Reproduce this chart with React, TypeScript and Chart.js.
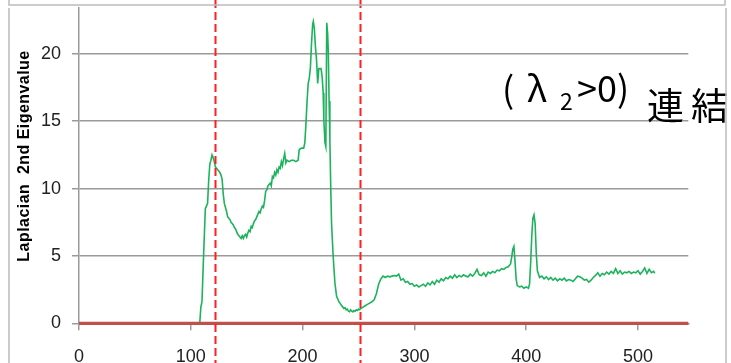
import React, { useEffect, useRef } from 'react';
import { Chart, registerables } from 'chart.js';

Chart.register(...registerables);

// Green series: 2nd eigenvalue vs. frame
const greenX = [
  0, 108, 109, 110, 111, 112, 113, 114, 115, 116, 117, 118, 119, 120, 121, 122, 123, 124, 125, 126, 127, 128, 129,
  130, 131, 132, 133, 134, 135, 136, 137, 138, 139, 140, 141, 142, 143, 144, 145, 146, 147, 148, 149, 150, 151,
  152, 153, 154, 155, 156, 157, 158, 159, 160, 161, 162, 163, 164, 165, 166, 167, 168, 169, 170, 171, 172, 173,
  174, 175, 176, 177, 178, 179, 180, 181, 182, 183, 184, 185, 186, 188, 190, 192, 194, 196, 197, 199, 201, 202,
  203, 204, 205, 206, 207, 208, 209, 209.6, 210.5, 211.5, 212.5, 213.5, 214.5, 216.5, 217.5, 218.4, 219, 220,
  220.8, 221.6, 222.4, 223, 223.7, 224.4, 225.2, 225.9, 227.4, 228.9, 230.4, 231.5, 232.5, 233.5, 234.5, 236, 237,
  238, 239, 240, 241, 242, 243, 244, 245, 246, 247, 248, 249, 250, 251, 252, 254, 256, 258, 260, 262, 264, 266,
  268, 270, 272, 274, 276, 278, 280, 282, 284, 286, 288, 290, 292, 294, 296, 298, 300, 302, 304, 306, 308, 310,
  312, 314, 316, 318, 320, 322, 324, 326, 328, 330, 332, 334, 336, 338, 340, 342, 344, 346, 348, 350, 352, 354,
  356, 358, 360, 362, 364, 366, 368, 370, 372, 374, 376, 378, 380, 382, 384, 386, 387, 388, 389, 390, 391, 392,
  394, 396, 398, 400, 402, 403, 404, 405, 406, 407, 408, 409, 410, 412, 414, 416, 418, 420, 422, 424, 426, 428,
  430, 432, 434, 436, 438, 440, 442, 444, 446, 448, 450, 452, 454, 456, 458, 460, 462, 464, 466, 468, 470, 472,
  474, 476, 478, 480, 482, 484, 486, 488, 490, 492, 494, 496, 498, 500, 502, 504, 506, 508, 510, 512, 514, 515,
];
const greenY = [
  0, 0, 1.2, 1.6, 4.0, 6.3, 8.5, 8.7, 8.9, 10.6, 11.8, 12.1, 12.5, 12.3, 12.0, 11.6, 11.5, 11.4, 11.3, 11.2, 11.0, 10.7, 9.6,
  8.9, 8.6, 8.3, 7.9, 7.8, 7.7, 7.5, 7.4, 7.3, 7.1, 7.0, 6.8, 6.6, 6.5, 6.4, 6.3, 6.5, 6.3, 6.5, 6.6, 6.4, 6.7,
  6.9, 6.8, 7.2, 7.1, 7.4, 7.6, 7.7, 7.9, 8.1, 8.3, 8.2, 8.5, 8.7, 8.6, 9.1, 9.8, 9.9, 10.2, 10.3, 10.4, 10.2, 10.9,
  10.8, 11.2, 11.0, 11.4, 11.2, 11.6, 11.5, 12.0, 11.7, 12.2, 12.6, 11.9, 12.1, 12.0, 12.1, 12.1, 12.0, 12.1, 12.9, 13.0, 13.0, 13.4,
  14.8, 16.5, 17.8, 18.2, 19.0, 20.8, 22.2, 22.4, 21.9, 20.5, 19.5, 17.8, 18.9, 18.9, 18.3, 17.1, 15.1, 13.4,
  13.1, 22.3, 21.5, 20.1, 16.5, 13.6, 10.0, 7.4, 4.9, 3.0, 2.0, 1.8, 1.6, 1.5, 1.35, 1.2, 1.1,
  1.15, 1.0, 1.05, 0.9, 0.86, 1.0, 0.9, 0.85, 0.95, 0.9, 1.0, 0.95, 1.05, 1.0, 1.1, 1.2, 1.3, 1.4, 1.5, 1.6, 1.75, 2.2,
  2.9, 3.3, 3.5, 3.4, 3.5, 3.45, 3.5, 3.55, 3.5, 3.65, 3.2, 3.3, 3.05, 3.1, 2.9, 2.95, 2.75, 2.85, 2.7, 2.8, 2.9, 2.75,
  3.0, 2.85, 3.1, 2.9, 3.2, 3.05, 3.3, 3.15, 3.4, 3.3, 3.5, 3.35, 3.6, 3.4, 3.55, 3.45, 3.6, 3.5, 3.45, 3.65, 3.5, 3.7,
  4.0, 3.6, 3.55, 3.75, 3.5, 3.8, 3.7, 3.85, 3.75, 3.95, 3.9, 4.05, 4.0, 4.15, 4.2, 4.4, 4.9, 5.5, 5.7, 4.6, 3.3, 2.8,
  2.7, 2.75, 2.6, 2.7, 2.6, 2.9, 4.5, 6.5, 7.8, 8.05, 7.4, 5.2, 3.9, 3.4, 3.5, 3.3, 3.45, 3.25, 3.4, 3.2, 3.35, 3.15,
  3.3, 3.2, 3.35, 3.15, 3.25, 3.2, 3.1, 3.3, 3.5, 3.45, 3.35, 3.2, 3.25, 3.05, 3.2, 3.4, 3.55, 3.75, 3.5, 3.7, 3.6, 3.8,
  3.65, 3.85, 3.7, 4.05, 3.7, 3.9, 3.65, 3.8, 3.75, 3.85, 3.7, 3.8, 3.75, 3.9, 3.65, 3.85, 4.1, 3.7, 4.0, 3.75, 3.85, 3.7,
];

// Red zero line (λ2 = 0)
const zeroX = [0, 545];
const zeroY = [0, 0];

// Red dashed vertical markers
const markerX = [122, 251];

const xTicks = [0, 100, 200, 300, 400, 500];
const yTicks = [0, 5, 10, 15, 20];
const xMin = 0;
const xMax = 545;
const yMin = 0;
const yMax = 23.4;

const yTitle = 'Laplacian  2nd Eigenvalue';
const noteOpen = '(';
const noteLambda = 'λ';
const noteSub = '2';
const noteRest = '>0)';
const noteWord = '連結';

const JP = '"Noto Sans CJK JP", "Noto Sans", sans-serif';
const SANS = '"Liberation Sans", Arial, sans-serif';

function drawInk(ctx: CanvasRenderingContext2D, text: string, inkLeft: number, baseline: number) {
  const m = ctx.measureText(text);
  ctx.fillText(text, inkLeft + m.actualBoundingBoxLeft, baseline);
}

const decorPlugin = {
  id: 'decor',
  afterDatasetsDraw(chart: any) {
    const { ctx } = chart;
    const xs = chart.scales.x;
    ctx.save();
    ctx.strokeStyle = '#ff1f1f';
    ctx.lineWidth = 2;
    ctx.setLineDash([8, 4]);
    markerX.forEach((v) => {
      const px = Math.round(xs.getPixelForValue(v)) + 0.5;
      ctx.beginPath();
      ctx.moveTo(px, 0);
      ctx.lineTo(px, chart.height);
      ctx.stroke();
    });
    ctx.restore();
  },
  afterDraw(chart: any) {
    const { ctx } = chart;
    ctx.save();
    // y-axis title
    ctx.fillStyle = '#000';
    ctx.font = `bold 16px ${SANS}`;
    (ctx as any).letterSpacing = '0.45px';
    ctx.textAlign = 'center';
    ctx.textBaseline = 'middle';
    ctx.translate(25, 156);
    ctx.rotate(-Math.PI / 2);
    ctx.fillText(yTitle, 0, 0);
    (ctx as any).letterSpacing = '0px';
    ctx.restore();

    // annotation
    ctx.save();
    ctx.fillStyle = '#000';
    ctx.textAlign = 'left';
    ctx.textBaseline = 'alphabetic';
    ctx.font = `36px ${JP}`;
    drawInk(ctx, noteOpen, 505, 103);
    drawInk(ctx, noteLambda, 527, 102);
    ctx.font = `23px ${JP}`;
    drawInk(ctx, noteSub, 560, 110);
    ctx.font = `36px ${JP}`;
    drawInk(ctx, noteRest, 578, 102);
    ctx.font = `37px ${JP}`;
    (ctx as any).letterSpacing = '7px';
    drawInk(ctx, noteWord, 648, 120);
    (ctx as any).letterSpacing = '0px';
    ctx.restore();

    // frame
    ctx.save();
    ctx.strokeStyle = '#bcbcbc';
    ctx.lineWidth = 1.5;
    ctx.beginPath();
    ctx.moveTo(9, 0);
    ctx.lineTo(9, 5);
    ctx.lineTo(725, 5);
    ctx.lineTo(725, 0);
    ctx.moveTo(9, 8);
    ctx.lineTo(9, chart.height);
    ctx.moveTo(726, 8);
    ctx.lineTo(726, chart.height);
    ctx.stroke();
    ctx.restore();
  },
};

export default function App() {
  const ref = useRef<HTMLCanvasElement | null>(null);
  useEffect(() => {
    if (!ref.current) return;
    const chart = new Chart(ref.current, {
      type: 'line',
      data: {
        datasets: [
          {
            label: 'λ2',
            data: greenX.map((x, i) => ({ x, y: greenY[i] })),
            borderColor: '#1cb35c',
            borderWidth: 1.6,
            pointRadius: 0,
            tension: 0,
            fill: false,
            order: 2,
            clip: false as any,
          },
          {
            label: 'zero',
            data: zeroX.map((x, i) => ({ x, y: zeroY[i] })),
            borderColor: '#c0504d',
            borderWidth: 3.2,
            pointRadius: 0,
            fill: false,
            order: 1,
            clip: false as any,
          },
        ],
      },
      options: {
        responsive: false,
        animation: false,
        devicePixelRatio: 1,
        layout: { padding: { top: 8, right: 731 - 688.3, left: 0, bottom: 0 } },
        plugins: { legend: { display: false }, tooltip: { enabled: false }, title: { display: false } },
        scales: {
          x: {
            type: 'linear',
            min: xMin,
            max: xMax,
            afterBuildTicks: (s: any) => {
              s.ticks = xTicks.map((v) => ({ value: v }));
            },
            afterFit: (s: any) => {
              s.height = 363 - 323.3;
              s.paddingLeft = 0;
              s.paddingRight = 0;
            },
            grid: {
              display: true,
              drawOnChartArea: false,
              drawTicks: true,
              tickLength: 7,
              color: '#9a9a9a',
              lineWidth: 1.5,
            },
            border: { display: true, color: '#9a9a9a', width: 1.5 },
            ticks: {
              padding: 16,
              maxRotation: 0,
              autoSkip: false,
              color: '#222',
              font: { family: SANS, size: 18 },
            },
          },
          y: {
            type: 'linear',
            min: yMin,
            max: yMax,
            afterBuildTicks: (s: any) => {
              s.ticks = yTicks.map((v) => ({ value: v }));
            },
            afterFit: (s: any) => {
              s.width = 79;
              s.paddingTop = 0;
              s.paddingBottom = 0;
            },
            grid: {
              display: true,
              drawTicks: true,
              tickLength: 7,
              color: '#9a9a9a',
              lineWidth: 1.5,
            },
            border: { display: true, color: '#9a9a9a', width: 1.5 },
            ticks: {
              padding: 11,
              color: '#222',
              font: { family: SANS, size: 18 },
            },
          },
        },
      },
      plugins: [decorPlugin],
    });
    return () => chart.destroy();
  }, []);
  return (
    <canvas
      ref={ref}
      width={731}
      height={363}
      style={{ position: 'absolute', left: 0, top: 0, width: 731, height: 363 }}
    />
  );
}
